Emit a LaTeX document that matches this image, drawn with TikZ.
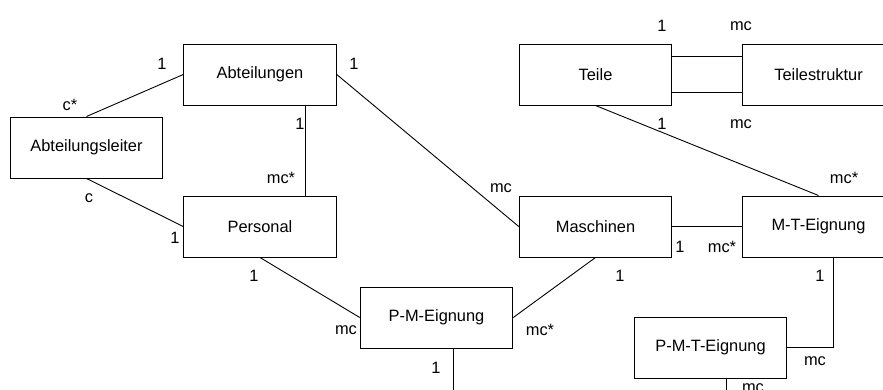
\documentclass[tikz,border=0pt]{standalone}
\usepackage{fontspec}
\setmainfont{Liberation Sans}
\begin{document}
\begin{tikzpicture}[x=1pt,y=-1pt,
  entity/.style={draw, line width=1pt, rectangle, minimum width=152.5pt, minimum height=61pt, inner sep=0pt, font=\fontsize{16.4}{19}\selectfont},
  card/.style={anchor=base, inner sep=0pt, font=\fontsize{16.4}{19}\selectfont},
  rel/.style={line width=0.9pt}]
\clip (0,0) rectangle (883,389);
\fill[white] (0,0) rectangle (883,389);
% entities
\node[entity] (abt)   at (260,74.5)   {Abteilungen};
\node[entity] (al)    at (86.5,147.5) {Abteilungsleiter};
\node[entity] (pers)  at (260,226.5)  {Personal};
\node[entity] (pm)    at (436.5,317.5){P-M-Eignung};
\node[entity] (masch) at (595.5,226.5){Maschinen};
\node[entity] (teile) at (595.5,74.5) {Teile};
\node[entity] (ts)    at (818.5,74.5) {Teilestruktur};
\node[entity] (mt)    at (818.5,226.5){M-T-Eignung};
\node[entity] (pmt)   at (710.5,347.5){P-M-T-Eignung};
\coordinate (pmout)  at (453,400);
\coordinate (pmtout) at (726,400);
% relationships
\draw[rel] (al.north) -- (abt.west);
\draw[rel] (al.south) -- (pers.west);
\draw[rel] ([xshift=45pt]abt.south) -- ([xshift=45pt]pers.north);
\draw[rel] (abt.east) -- (masch.west);
\draw[rel] (pers.south) -- (pm.west);
\draw[rel] (masch.south) -- (pm.east);
\draw[rel] ([xshift=16.5pt]pm.south) -- (pm.south -| pmout) -- (pmout);
\draw[rel] ([yshift=-18pt]teile.east) -- ([yshift=-18pt]ts.west);
\draw[rel] ([yshift=18.5pt]teile.east) -- ([yshift=18.5pt]ts.west);
\draw[rel] (teile.south) -- (mt.north);
\draw[rel] (masch.east) -- (mt.west);
\draw[rel] ([xshift=14.5pt]mt.south) |- (pmt.east);
\draw[rel] ([xshift=15.5pt]pmt.south) -- (pmtout);
% cardinalities
\node[card] (c1)  at (162,69)  {1};
\node[card] (c2)  at (70,110)  {c*};
\node[card] (c3)  at (89,202)  {c};
\node[card] (c4)  at (175,243) {1};
\node[card] (c5)  at (300,129) {1};
\node[card] (c6)  at (281,183) {mc*};
\node[card] (c7)  at (354,69)  {1};
\node[card] (c8)  at (501,192) {mc};
\node[card] (c9)  at (254,281) {1};
\node[card] (c10) at (346,334) {mc};
\node[card] (c11) at (540,335) {mc*};
\node[card] (c12) at (620,281) {1};
\node[card] (c13) at (436,373) {1};
\node[card] (c14) at (680,252) {1};
\node[card] (c15) at (722,252) {mc*};
\node[card] (c16) at (820,281) {1};
\node[card] (c17) at (815,365) {mc};
\node[card] (c18) at (753,392) {mc};
\node[card] (c19) at (662,31)  {1};
\node[card] (c20) at (741,30)  {mc};
\node[card] (c21) at (662,129) {1};
\node[card] (c22) at (741,128) {mc};
\node[card] (c23) at (844,183) {mc*};
\end{tikzpicture}
\end{document}
